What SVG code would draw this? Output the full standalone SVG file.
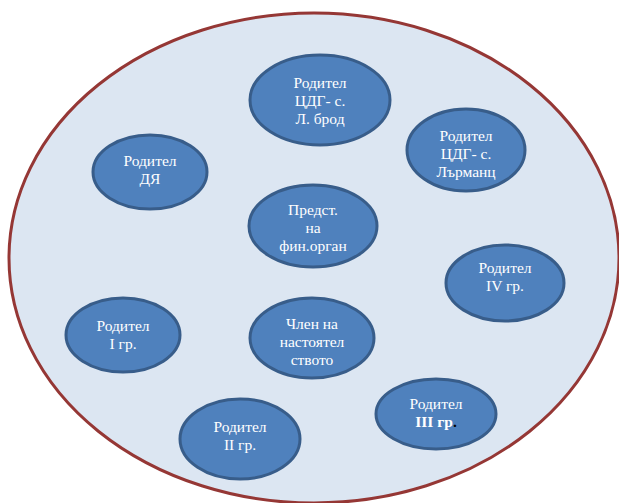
<svg xmlns="http://www.w3.org/2000/svg" width="619" height="503" viewBox="0 0 619 503">
<style>
.node ellipse{fill:#4f81bd;stroke:#385d8a;stroke-width:3}
.node text{font-family:"Liberation Serif","Times New Roman",serif;font-size:15.5px;fill:#ffffff;text-anchor:middle}
</style>
<rect width="619" height="503" fill="#ffffff"/>
<g id="frame">
<ellipse cx="314" cy="258" rx="305" ry="245" fill="#dce6f2" stroke="#953735" stroke-width="3"/>
</g>
<g id="connectors"></g>
<g id="n-lbrod" class="node">
<ellipse cx="320" cy="100" rx="70" ry="45"/>
<text x="320" y="88">Родител</text>
<text x="320" y="106">ЦДГ- с.</text>
<text x="320" y="124">Л. брод</text>
</g>
<g id="n-larmanc" class="node">
<ellipse cx="466" cy="150" rx="59" ry="41"/>
<text x="466" y="141">Родител</text>
<text x="466" y="159">ЦДГ- с.</text>
<text x="466" y="177">Лърманц</text>
</g>
<g id="n-dya" class="node">
<ellipse cx="150" cy="172" rx="57" ry="37"/>
<text x="150" y="166">Родител</text>
<text x="150" y="184">ДЯ</text>
</g>
<g id="n-fin" class="node">
<ellipse cx="313" cy="226" rx="64" ry="41"/>
<text x="313" y="215">Предст.</text>
<text x="313" y="233">на</text>
<text x="313" y="251">фин.орган</text>
</g>
<g id="n-chlen" class="node">
<ellipse cx="312" cy="338" rx="62" ry="40"/>
<text x="312" y="329">Член на</text>
<text x="312" y="347">настоятел</text>
<text x="312" y="365">ството</text>
</g>
<g id="n-gr1" class="node">
<ellipse cx="123" cy="335" rx="57" ry="37"/>
<text x="123" y="331">Родител</text>
<text x="123" y="349">I гр.</text>
</g>
<g id="n-gr2" class="node">
<ellipse cx="240" cy="439" rx="60" ry="40"/>
<text x="240" y="432">Родител</text>
<text x="240" y="450">II гр.</text>
</g>
<g id="n-gr3" class="node">
<ellipse cx="436" cy="414" rx="60" ry="35"/>
<text x="436" y="409">Родител</text>
<text x="436" y="427"><tspan font-weight="bold">III гр</tspan><tspan fill="#000000" font-weight="bold">.</tspan></text>
</g>
<g id="n-gr4" class="node">
<ellipse cx="505" cy="283" rx="59" ry="38"/>
<text x="505" y="273">Родител</text>
<text x="505" y="291">IV гр.</text>
</g>
</svg>
